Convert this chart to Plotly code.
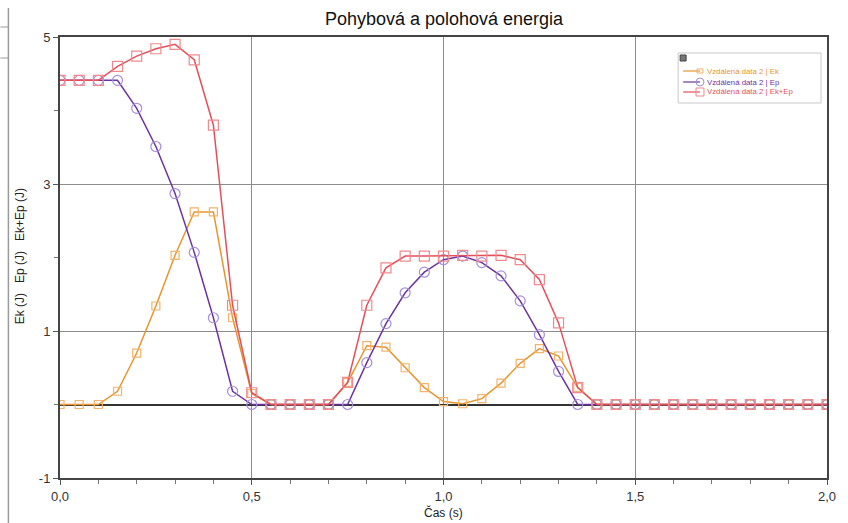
import plotly.graph_objects as go

# ---- data ----
time_s = [0.00, 0.05, 0.10, 0.15, 0.20, 0.25, 0.30, 0.35, 0.40, 0.45,
          0.50, 0.55, 0.60, 0.65, 0.70, 0.75, 0.80, 0.85, 0.90, 0.95,
          1.00, 1.05, 1.10, 1.15, 1.20, 1.25, 1.30, 1.35, 1.40, 1.45,
          1.50, 1.55, 1.60, 1.65, 1.70, 1.75, 1.80, 1.85, 1.90, 1.95, 2.00]

ek = [0, 0, 0, 0.18, 0.70, 1.34, 2.03, 2.62, 2.62, 1.18,
      0.15, 0, 0, 0, 0, 0.30, 0.80, 0.78, 0.50, 0.23,
      0.04, 0.01, 0.08, 0.29, 0.56, 0.76, 0.66, 0.23, 0, 0,
      0, 0, 0, 0, 0, 0, 0, 0, 0, 0, 0]

ep = [4.41, 4.41, 4.41, 4.41, 4.03, 3.51, 2.87, 2.07, 1.18, 0.18,
      0, 0, 0, 0, 0, 0, 0.57, 1.10, 1.52, 1.80,
      1.97, 2.02, 1.93, 1.75, 1.41, 0.95, 0.45, 0, 0, 0,
      0, 0, 0, 0, 0, 0, 0, 0, 0, 0, 0]

ek_ep = [4.41, 4.41, 4.41, 4.60, 4.74, 4.84, 4.90, 4.69, 3.80, 1.35,
         0.16, 0, 0, 0, 0, 0.30, 1.35, 1.86, 2.02, 2.02,
         2.02, 2.03, 2.02, 2.03, 1.97, 1.70, 1.11, 0.23, 0, 0,
         0, 0, 0, 0, 0, 0, 0, 0, 0, 0, 0]

y_tick_vals = [-1, 1, 3, 5]
y_tick_text = ["-1", "1", "3", "5"]
y_minor_vals = [0, 2, 4]

series_names = ["Vzdálená data 2 | Ek", "Vzdálená data 2 | Ep", "Vzdálená data 2 | Ek+Ep"]
title_text = "Pohybová a polohová energia"
x_title = "Čas (s)"
y_title = "Ek (J)\u00a0\u00a0\u00a0Ep (J)\u00a0\u00a0\u00a0Ek+Ep (J)"

# ---- styles ----
FONT = "Liberation Sans, Arial, sans-serif"
line_cols = ["#e8952e", "#6b349f", "#e2505c"]
mark_cols = ["#f2b36c", "#a490dc", "#ef8a8e"]
symbols = ["square-open", "circle-open", "square-open"]
msizes = [8, 10, 10]

W, H = 848, 523
L, R, T, B = 60, 15, 37, 45
pw, ph = W - L - R, H - T - B


def px(x):
    return (x - L) / pw


def py(y):
    return (H - B - y) / ph


fig = go.Figure()
for ys, name, lc, mc, sym, ms in zip([ek, ep, ek_ep], series_names, line_cols,
                                     mark_cols, symbols, msizes):
    fig.add_trace(go.Scatter(
        x=time_s, y=ys, name=name, mode="lines+markers",
        line=dict(color=lc, width=1.5),
        marker=dict(symbol=sym, size=ms, color=mc, line=dict(color=mc, width=1.2)),
        cliponaxis=True,
    ))

shapes = []
annotations = []

# manual legend
shapes.append(dict(type="rect", xref="paper", yref="paper",
                   x0=px(683), x1=px(827), y0=py(103), y1=py(53),
                   line=dict(color="#c8c8c8", width=1), fillcolor="white", layer="above"))
shapes.append(dict(type="rect", xref="paper", yref="paper",
                   x0=px(685), x1=px(691), y0=py(61), y1=py(55),
                   line=dict(color="#444", width=1), fillcolor="#777", layer="above"))
leg_y = [71, 82, 92]
for i, yy in enumerate(leg_y):
    shapes.append(dict(type="line", xref="paper", yref="paper",
                       x0=px(688), x1=px(705), y0=py(yy), y1=py(yy),
                       line=dict(color=line_cols[i], width=1.2), layer="above"))
    if symbols[i].startswith("circle"):
        shapes.append(dict(type="circle", xref="paper", yref="paper",
                           x0=px(701), x1=px(709), y0=py(yy + 4), y1=py(yy - 4),
                           line=dict(color=mark_cols[i], width=1), layer="above"))
    else:
        hw = 3 if i == 0 else 4
        hh = 2 if i == 0 else 4
        shapes.append(dict(type="rect", xref="paper", yref="paper",
                           x0=px(705 - hw), x1=px(705 + hw), y0=py(yy + hh),
                           y1=py(yy - hh),
                           line=dict(color=mark_cols[i], width=1), layer="above"))
    annotations.append(dict(xref="paper", yref="paper", x=px(710), y=py(yy),
                            xanchor="left", yanchor="middle", showarrow=False,
                            text=series_names[i],
                            font=dict(family=FONT, size=7.8, color=line_cols[i])))

# y axis title
annotations.append(dict(xref="paper", yref="paper", x=px(20), y=py(256),
                        xanchor="center", yanchor="middle", showarrow=False,
                        textangle=-90, text=y_title,
                        font=dict(family=FONT, size=12, color="#222")))
# x axis title
annotations.append(dict(xref="paper", yref="paper", x=px(447), y=py(512),
                        xanchor="center", yanchor="middle", showarrow=False,
                        text=x_title, font=dict(family=FONT, size=12, color="#222")))

# left window edge artefact
shapes.append(dict(type="line", xref="paper", yref="paper",
                   x0=px(8), x1=px(8), y0=py(523), y1=py(8),
                   line=dict(color="#9a9a9a", width=1.5)))
for yy in (27, 58):
    shapes.append(dict(type="line", xref="paper", yref="paper",
                       x0=px(0), x1=px(8), y0=py(yy), y1=py(yy),
                       line=dict(color="#9a9a9a", width=1)))

fig.update_layout(
    width=W, height=H,
    margin=dict(l=L, r=R, t=T, b=B),
    paper_bgcolor="white", plot_bgcolor="white",
    showlegend=False,
    separators=",.",
    font=dict(family=FONT, size=13, color="#333"),
    title=dict(text=title_text, x=px(447), xref="paper", xanchor="center",
               y=1 - 19 / H, yanchor="middle",
               font=dict(family=FONT, size=18, color="#111")),
    shapes=shapes,
    annotations=annotations,
)

fig.update_xaxes(
    range=[0, 2], dtick=0.5, tick0=0, tickformat=".1f",
    showgrid=True, gridcolor="#8c8c8c", gridwidth=1,
    ticks="outside", ticklen=5, tickcolor="#555",
    minor=dict(dtick=0.1, tick0=0, ticks="outside", ticklen=4, tickcolor="#777", showgrid=False),
    showline=True, linecolor="#444", linewidth=2, mirror=True,
    zeroline=False, fixedrange=True,
    tickfont=dict(family=FONT, size=13, color="#333"),
)
fig.update_yaxes(
    range=[-1, 5], tickmode="array", tickvals=y_tick_vals, ticktext=y_tick_text,
    showgrid=True, gridcolor="#8c8c8c", gridwidth=1,
    ticks="outside", ticklen=5, tickcolor="#555",
    minor=dict(tickmode="array", tickvals=y_minor_vals, ticks="outside", ticklen=4,
               tickcolor="#777", showgrid=False),
    showline=True, linecolor="#444", linewidth=2, mirror=True,
    zeroline=True, zerolinecolor="#333", zerolinewidth=2,
    fixedrange=True,
    tickfont=dict(family=FONT, size=13, color="#333"),
)

fig.write_html("out.html",
               config={"displayModeBar": False, "staticPlot": True},
               post_script="document.body.style.margin='0';document.body.style.overflow='hidden';")
